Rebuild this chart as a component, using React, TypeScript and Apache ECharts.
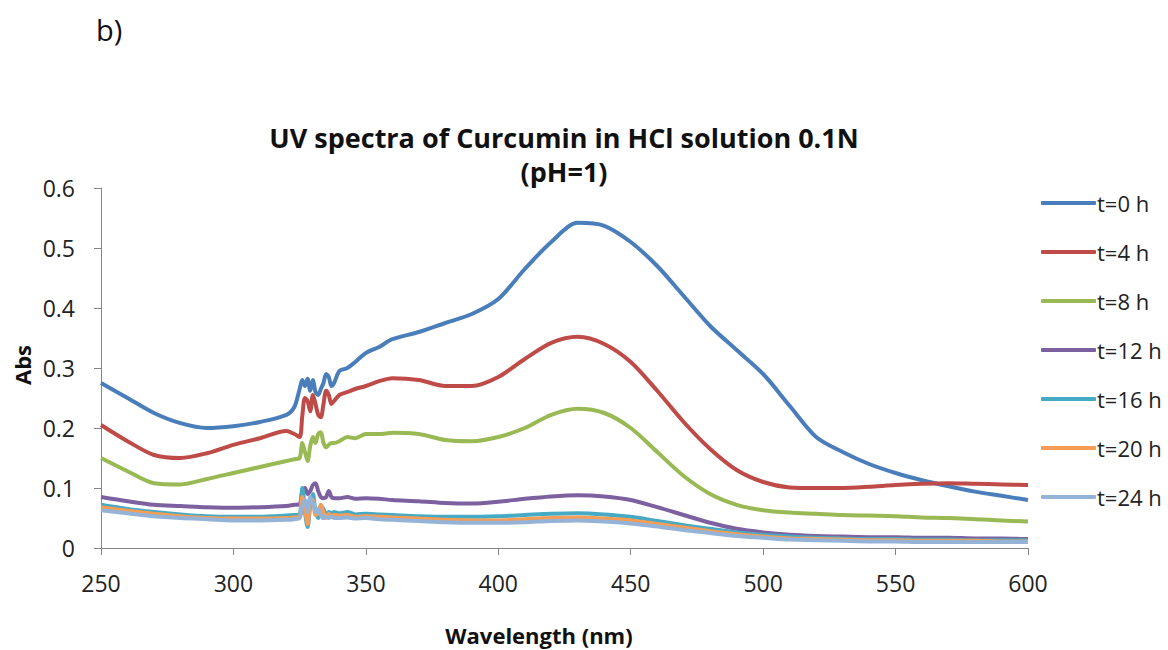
import React, { useEffect, useRef } from "react";
import * as echarts from "echarts";

const wavelengths = [250, 260, 270, 280, 290, 300, 310, 320, 323, 325, 326, 327, 328, 329, 330, 331, 332, 333, 334, 335, 336, 337, 338, 340, 343, 346, 350, 355, 360, 370, 380, 390, 400, 410, 420, 430, 440, 450, 460, 470, 480, 490, 500, 510, 520, 530, 540, 550, 560, 570, 580, 590, 600];

const t0 = [0.275, 0.25, 0.225, 0.208, 0.2, 0.203, 0.21, 0.222, 0.235, 0.265, 0.28, 0.27, 0.282, 0.262, 0.28, 0.26, 0.255, 0.265, 0.275, 0.29, 0.285, 0.27, 0.275, 0.295, 0.3, 0.31, 0.325, 0.335, 0.348, 0.36, 0.375, 0.39, 0.415, 0.465, 0.51, 0.542, 0.537, 0.51, 0.47, 0.42, 0.37, 0.33, 0.29, 0.237, 0.185, 0.16, 0.14, 0.125, 0.113, 0.103, 0.094, 0.087, 0.08];
const t4 = [0.205, 0.178, 0.155, 0.15, 0.158, 0.172, 0.183, 0.195, 0.19, 0.185, 0.22, 0.25, 0.245, 0.228, 0.255, 0.24, 0.222, 0.218, 0.24, 0.262, 0.255, 0.24, 0.245, 0.255, 0.26, 0.265, 0.27, 0.278, 0.283, 0.28, 0.27, 0.27, 0.285, 0.315, 0.342, 0.352, 0.34, 0.31, 0.262, 0.21, 0.165, 0.13, 0.11, 0.101, 0.1, 0.1, 0.102, 0.105, 0.107, 0.108, 0.107, 0.106, 0.105];
const t8 = [0.15, 0.128, 0.108, 0.106, 0.115, 0.125, 0.135, 0.145, 0.148, 0.15, 0.175, 0.16, 0.145, 0.17, 0.185, 0.175, 0.19, 0.193, 0.175, 0.168, 0.172, 0.175, 0.175, 0.178, 0.185, 0.183, 0.19, 0.19, 0.192, 0.19, 0.18, 0.178, 0.185, 0.2, 0.222, 0.232, 0.225, 0.2, 0.16, 0.12, 0.09, 0.072, 0.063, 0.059, 0.057, 0.055, 0.054, 0.053, 0.051, 0.05, 0.048, 0.046, 0.044];
const t12 = [0.085, 0.078, 0.072, 0.07, 0.068, 0.067, 0.068, 0.07, 0.072, 0.073, 0.095, 0.1, 0.09, 0.095, 0.105, 0.108, 0.095, 0.085, 0.083, 0.085, 0.095, 0.085, 0.083, 0.083, 0.085, 0.082, 0.083, 0.082, 0.08, 0.078, 0.075, 0.074, 0.077, 0.082, 0.086, 0.088, 0.086, 0.08, 0.068, 0.055, 0.042, 0.032, 0.026, 0.022, 0.02, 0.019, 0.018, 0.018, 0.017, 0.017, 0.016, 0.016, 0.015];
const t16 = [0.072, 0.065, 0.06, 0.056, 0.053, 0.052, 0.052, 0.054, 0.055, 0.056, 0.1, 0.06, 0.035, 0.07, 0.09, 0.06, 0.05, 0.07, 0.065, 0.055, 0.06, 0.058, 0.06, 0.058, 0.06, 0.056, 0.057, 0.056, 0.055, 0.053, 0.052, 0.052, 0.053, 0.055, 0.057, 0.058, 0.056, 0.052, 0.045, 0.038, 0.032, 0.026, 0.022, 0.019, 0.017, 0.016, 0.015, 0.015, 0.014, 0.014, 0.013, 0.013, 0.013];
const t20 = [0.068, 0.062, 0.057, 0.053, 0.05, 0.049, 0.049, 0.05, 0.051, 0.052, 0.085, 0.065, 0.04, 0.075, 0.08, 0.055, 0.06, 0.072, 0.06, 0.05, 0.057, 0.053, 0.055, 0.054, 0.055, 0.052, 0.053, 0.052, 0.051, 0.049, 0.047, 0.046, 0.046, 0.048, 0.05, 0.051, 0.049, 0.046, 0.04, 0.034, 0.028, 0.023, 0.019, 0.016, 0.015, 0.014, 0.013, 0.013, 0.012, 0.012, 0.012, 0.011, 0.011];
const t24 = [0.063, 0.058, 0.053, 0.05, 0.048, 0.046, 0.046, 0.047, 0.048, 0.05, 0.07, 0.08, 0.06, 0.085, 0.075, 0.06, 0.065, 0.055, 0.05, 0.052, 0.05, 0.052, 0.05, 0.05, 0.051, 0.049, 0.05, 0.048, 0.047, 0.045, 0.043, 0.042, 0.042, 0.043, 0.045, 0.046, 0.044, 0.041, 0.036, 0.03, 0.025, 0.02, 0.017, 0.014, 0.013, 0.012, 0.011, 0.011, 0.01, 0.01, 0.01, 0.01, 0.01];

const seriesNames = ["t=0 h", "t=4 h", "t=8 h", "t=12 h", "t=16 h", "t=20 h", "t=24 h"];
const seriesValues = [t0, t4, t8, t12, t16, t20, t24];
const seriesColors = ["#4A7EBB", "#BE4B48", "#98B954", "#7D60A0", "#46AAC5", "#F59D56", "#95B3D7"];

const xTicks = { min: 250, max: 600, interval: 50 };
const yTicks = { min: 0, max: 0.6, interval: 0.1 };

const FONT = "'Open Sans', Lato, sans-serif";

export default function App() {
  const ref = useRef<HTMLDivElement>(null);
  useEffect(() => {
    if (!ref.current) return;
    const chart = echarts.init(ref.current, undefined, { renderer: "svg" });
    const series = seriesNames.map((name, i) => ({
      name,
      type: "line",
      data: wavelengths.map((w, j) => [w, seriesValues[i][j]]),
      symbol: "none",
      smooth: 0.3,
      lineStyle: { color: seriesColors[i], width: 4 },
      itemStyle: { color: seriesColors[i] },
    }));
    chart.setOption({
      animation: false,
      backgroundColor: "#ffffff",
      textStyle: { fontFamily: FONT },
      grid: { left: 101, right: 140, top: 188, bottom: 102 },
      graphic: [
        { type: "text", x: 96, y: 29, style: { text: "b)", font: `29px ${FONT}`, fill: "#111", verticalAlign: "middle" } },
        { type: "text", x: 564, y: 137, style: { text: "UV spectra of Curcumin in HCl solution 0.1N", font: `bold 27px ${FONT}`, fill: "#111", textAlign: "center", verticalAlign: "middle" } },
        { type: "text", x: 564, y: 171, style: { text: "(pH=1)", font: `bold 27px ${FONT}`, fill: "#111", textAlign: "center", verticalAlign: "middle" } },
        { type: "text", x: 539, y: 635, style: { text: "Wavelength (nm)", font: `bold 22px ${FONT}`, fill: "#111", textAlign: "center", verticalAlign: "middle" } },
        { type: "text", x: 22, y: 365, rotation: Math.PI / 2, style: { text: "Abs", font: `bold 22px ${FONT}`, fill: "#111", textAlign: "center", verticalAlign: "middle" } },
      ],
      legend: {
        orient: "vertical",
        left: 1036,
        top: 184,
        itemWidth: 55,
        itemHeight: 4,
        itemGap: 21,
        icon: "roundRect",
        textStyle: { fontSize: 22, color: "#222", fontFamily: FONT, lineHeight: 28, padding: [0, 0, 0, -4] },
        data: seriesNames,
      },
      xAxis: {
        type: "value",
        min: xTicks.min,
        max: xTicks.max,
        interval: xTicks.interval,
        axisLine: { lineStyle: { color: "#868686", width: 1 } },
        axisTick: { show: true, length: 7, lineStyle: { color: "#868686" } },
        axisLabel: { fontSize: 23, color: "#222", margin: 23, fontFamily: FONT },
        splitLine: { show: false },
      },
      yAxis: {
        type: "value",
        min: yTicks.min,
        max: yTicks.max,
        interval: yTicks.interval,
        axisLine: { show: true, lineStyle: { color: "#868686", width: 1 } },
        axisTick: { show: true, length: 7, lineStyle: { color: "#868686" } },
        axisLabel: { fontSize: 23, color: "#222", margin: 26, fontFamily: FONT, formatter: (v: number) => (v === 0 ? "0" : v.toFixed(1)) },
        splitLine: { show: false },
      },
      series,
    });
    return () => chart.dispose();
  }, []);
  return <div ref={ref} style={{ position: "fixed", left: 0, top: 0, width: 1168, height: 650, background: "#fff" }} />;
}
